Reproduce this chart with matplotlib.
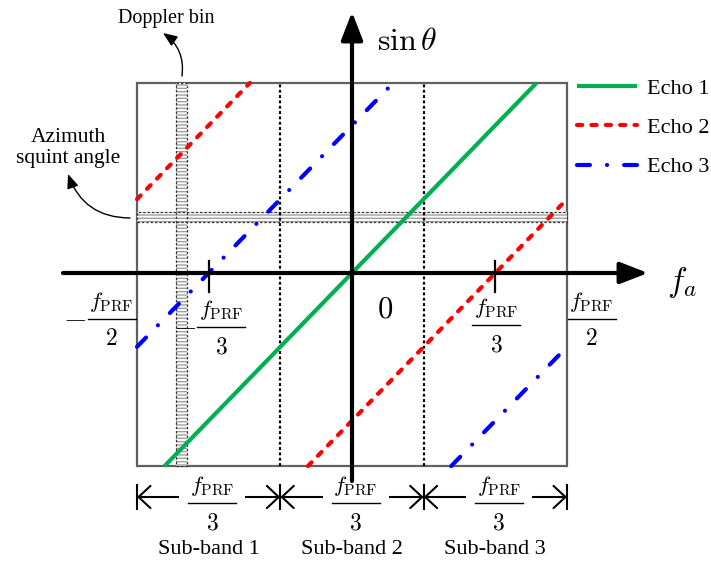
import numpy as np
import matplotlib
matplotlib.use('Agg')
import matplotlib.pyplot as plt
from matplotlib.patches import Rectangle

plt.rcParams['font.family'] = ['Liberation Serif', 'DejaVu Serif']
plt.rcParams['mathtext.fontset'] = 'cm'

# ---------------- data (frequency in units of f_PRF) ----------------
f_prf = 1.0
echo_names = ['Echo 1', 'Echo 2', 'Echo 3']
echo_colors = ['#00b050', '#ff0000', '#0000ff']
echo_intercepts = [[0.0], [1 / 3, 1 / 3 - 1], [-1 / 3, -1 / 3 + 1]]
slope = 1.03
sin_top, sin_bot = 0.442, -0.449
sub_band_edges = [-1 / 2, -1 / 6, 1 / 6, 1 / 2]
sub_band_labels = ['Sub-band 1', 'Sub-band 2', 'Sub-band 3']
tick_marks = [-1 / 3, 1 / 3]
doppler_bin = (-0.3965, 0.0256)      # centre, width
squint_band = (0.130, 0.023)         # centre, height

W, H = 711, 562
SC, X0, Y0 = 430.0, 352.0, 273.0


def P(x, y):
    """pixel (from top-left) -> data coordinates"""
    return ((x - X0) / SC, (Y0 - y) / SC)


def px(f):
    return X0 + f * SC


fig = plt.figure(figsize=(W / 100, H / 100), dpi=100)
ax = fig.add_axes([0, 0, 1, 1])
ax.set_xlim(-X0 / SC, (W - X0) / SC)
ax.set_ylim((Y0 - H) / SC, Y0 / SC)
ax.axis('off')


def frac(xc, ybar, den, minus=False, white=False, fs=16):
    """f_PRF / den fraction centred at pixel (xc, ybar)"""
    kw = dict(fontsize=fs, ha='center', va='baseline', zorder=6)
    if white:
        ax.add_patch(Rectangle(P(xc - 33, ybar + 30), 66 / SC, 54 / SC,
                               fc='white', ec='none', zorder=2.5))
    ax.text(*P(xc, ybar - 11), r'$f_{\mathrm{PRF}}$', **kw)
    kw['fontsize'] = fs + 1
    ax.text(*P(xc, ybar + 26), r'$%s$' % den, **kw)
    x0, y0 = P(xc - 24, ybar)
    x1, _ = P(xc + 24, ybar)
    ax.plot([x0, x1], [y0, y0], color='k', lw=1.0, zorder=6)
    if minus:
        kw['fontsize'] = 22
        ax.text(*P(xc - 37, ybar + 7.5), r'$-$', **kw)


# frame
ax.add_patch(Rectangle((-0.5 * f_prf, sin_bot), f_prf, sin_top - sin_bot,
                       fill=False, ec='#606060', lw=1.6, zorder=1))

# doppler bin band
c, w = doppler_bin
ax.add_patch(Rectangle((c - w / 2, sin_bot), w, sin_top - sin_bot, fc='white',
                       ec='#a0a0a0', hatch='-----', lw=0, zorder=1.5))
ax.add_patch(Rectangle((c - w / 2, sin_bot), w, sin_top - sin_bot, fill=False,
                       ec='#333333', lw=0.9, ls=(0, (2, 1.5)), zorder=1.6))
# squint band
c, h = squint_band
ax.add_patch(Rectangle((-0.5, c - h / 2), 1.0, h, fc='white',
                       ec='#a0a0a0', hatch='-----', lw=0, zorder=1.5))
ax.add_patch(Rectangle((-0.5, c - h / 2), 1.0, h, fill=False,
                       ec='#333333', lw=0.9, ls=(0, (2, 1.5)), zorder=1.6))

# sub-band dividers
for e in sub_band_edges[1:-1]:
    ax.plot([e, e], [sin_bot, sin_top], color='k', lw=1.6,
            ls=(0, (1.3, 1.1)), zorder=2)

# echoes
styles = ['-', (0, (1.25, 2.2)), (0, (3.1, 4.1, 0.01, 4.1))]
for name, col, ints, ls in zip(echo_names, echo_colors, echo_intercepts, styles):
    for i, c0 in enumerate(ints):
        f0 = max(-0.5, c0 + sin_bot / slope)
        f1 = min(0.5, c0 + sin_top / slope)
        f = np.array([f0, f1])
        ax.plot(f, slope * (f - c0), color=col, lw=3, ls=ls,
                dash_capstyle='round', solid_capstyle='butt', zorder=3,
                label=name if i == 0 else None)

# coordinate axes
ap = dict(arrowstyle='-|>,head_length=0.85,head_width=0.33', lw=3, color='k',
          shrinkA=0, shrinkB=0, mutation_scale=20)
ax.annotate('', xy=P(648, Y0), xytext=P(63, Y0), arrowprops=ap, zorder=5)
ax.annotate('', xy=P(X0, 12), xytext=P(X0, 481), arrowprops=ap, zorder=5)
for t in tick_marks:
    ax.plot([t, t], [0.028, -0.044], color='k', lw=1.6, zorder=5)

ax.text(*P(407, 42), r'$\sin\theta$', fontsize=23, ha='center', va='center')
ax.text(*P(682, 282), r'$f_a$', fontsize=24, ha='center', va='center')
ax.text(*P(385, 310), r'$0$', fontsize=22, ha='center', va='center')

# tick labels
frac(px(-0.5) - 25.5, 319, '2', minus=True)
frac(px(tick_marks[0]) + 12.5, 327, '3', minus=True)
frac(px(tick_marks[1]) + 1, 325, '3')
frac(px(0.5) + 24.5, 319, '2')

# sub-band width arrows
yb = P(0, 497)[1]
for i, lab in enumerate(sub_band_labels):
    a, b = sub_band_edges[i], sub_band_edges[i + 1]
    ax.annotate('', xy=(b, yb), xytext=(a, yb),
                arrowprops=dict(arrowstyle='<->,head_length=0.86,head_width=0.8',
                                lw=1.5, color='k', shrinkA=0, shrinkB=0,
                                mutation_scale=10), zorder=2)
    frac(px((a + b) / 2) + 3.5, 503, '3', white=True)
    ax.text((a + b) / 2, P(0, 549)[1], lab, fontsize=16, ha='center', va='center')
for e in sub_band_edges:
    ax.plot([e, e], [P(0, 485)[1], P(0, 509)[1]], color='k', lw=1.5, zorder=2)

# annotations
ax.text(*P(166, 18), 'Doppler bin', fontsize=14.5, ha='center', va='center')
ax.annotate('', xy=P(163, 33), xytext=P(182, 76),
            arrowprops=dict(arrowstyle='-|>,head_length=0.86,head_width=0.35',
                            connectionstyle='arc3,rad=0.3', lw=1, color='k',
                            shrinkA=0, shrinkB=0, mutation_scale=10))
ax.text(*P(68, 148), 'Azimuth\nsquint angle', fontsize=15.5, ha='center',
        va='center', linespacing=1.15)
ax.annotate('', xy=P(68, 174), xytext=P(130, 218),
            arrowprops=dict(arrowstyle='-|>,head_length=0.86,head_width=0.35',
                            connectionstyle='arc3,rad=-0.35', lw=1, color='k',
                            shrinkA=0, shrinkB=0, mutation_scale=10))

ax.legend(loc='upper left', bbox_to_anchor=(577 / W, 1 - 78 / H),
          bbox_transform=fig.transFigure, frameon=False, fontsize=16,
          handlelength=2.7, handletextpad=0.45, labelspacing=0.85,
          borderpad=0, borderaxespad=0)

fig.savefig('out.png', dpi=100)
